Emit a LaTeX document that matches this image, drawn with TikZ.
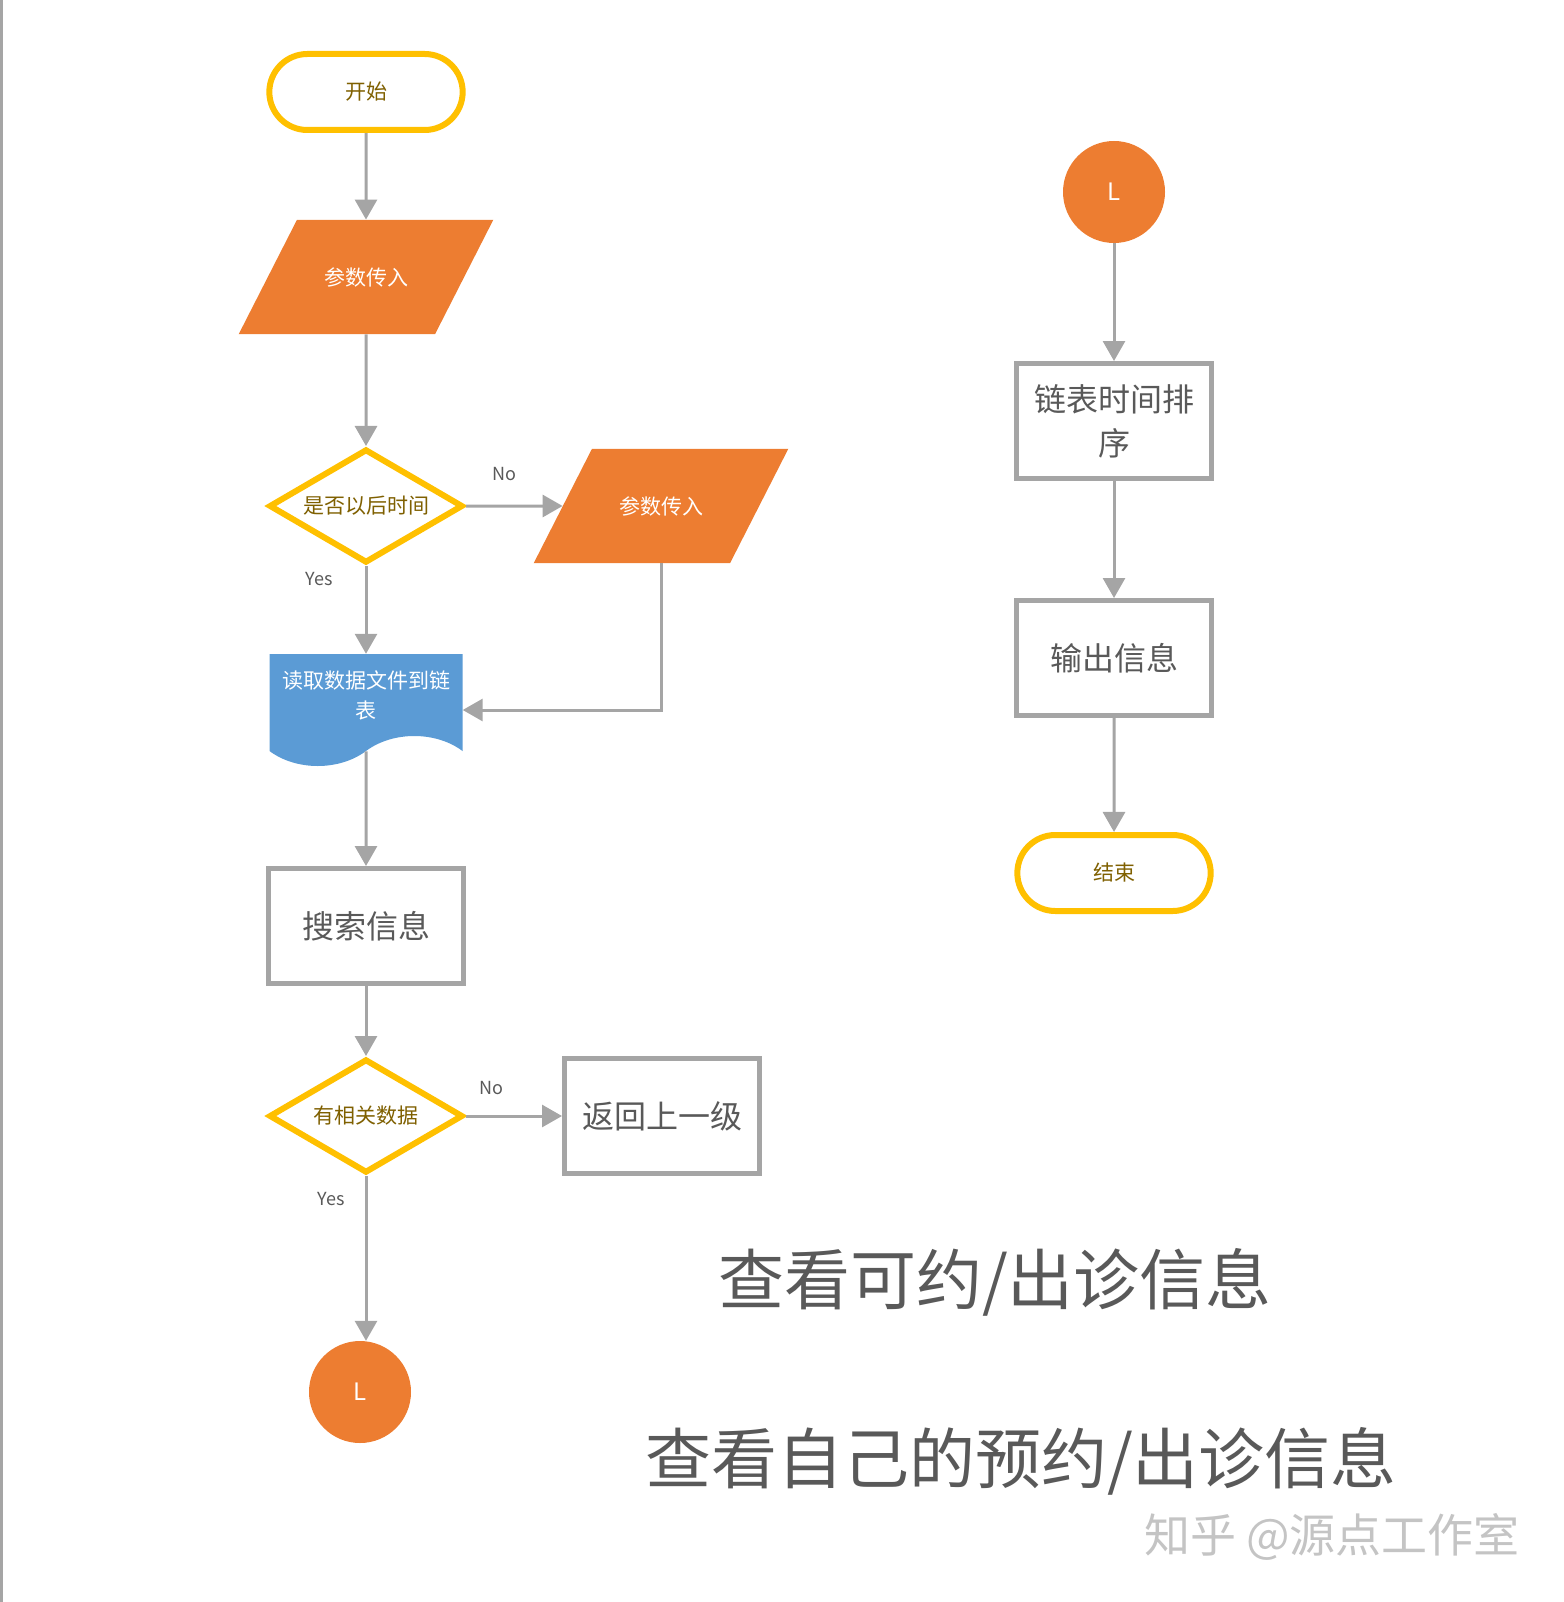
\documentclass[tikz,border=0pt]{standalone}
\usepackage{fontspec}
\setmainfont{Noto Sans CJK SC}
\usetikzlibrary{shapes.geometric,shapes.misc,shapes.symbols,arrows.meta}

\definecolor{termline}{HTML}{FFC000}
\definecolor{termtext}{HTML}{7F6000}
\definecolor{ioorange}{HTML}{ED7D31}
\definecolor{docblue}{HTML}{5B9BD5}
\definecolor{boxline}{HTML}{A5A5A5}
\definecolor{boxtext}{HTML}{595959}
\definecolor{marktext}{HTML}{C4C4C4}

\begin{document}
\begin{tikzpicture}[x=1pt,y=-1pt,
  term/.style={rounded rectangle,draw=termline,line width=6pt,fill=white,
    minimum width=200pt,minimum height=76pt,text=termtext,font=\fontsize{21}{25}\selectfont},
  io/.style={trapezium,trapezium left angle=63,trapezium right angle=117,
    inner xsep=27pt,inner ysep=47.5pt,fill=ioorange,
    text=white,font=\fontsize{21}{25}\selectfont},
  decision/.style={diamond,aspect=1.7,inner sep=0pt,draw=termline,line width=6pt,fill=white,
    minimum width=194pt,minimum height=114pt,text=termtext,font=\fontsize{21}{25}\selectfont},
  doc/.style={tape,tape bend top=none,tape bend bottom=in and out,tape bend height=30pt,
    fill=docblue,minimum width=193pt,minimum height=112pt,inner sep=2pt,
    text=white,align=center,font=\fontsize{21}{30}\selectfont},
  proc/.style={rectangle,draw=boxline,line width=5pt,fill=white,minimum width=195pt,
    minimum height=115pt,text=boxtext,align=center,font=\fontsize{32}{44}\selectfont},
  conn/.style={circle,fill=ioorange,minimum size=102pt,inner sep=0pt,
    text=white,font=\fontsize{24}{28}\selectfont},
  arr/.style={draw=boxline,line width=3pt,-{Triangle[width=22pt,length=20pt]}},
  lbl/.style={text=boxtext,font=\fontsize{18}{21}\selectfont},
  title/.style={text=boxtext,font=\fontsize{66}{70}\selectfont}
]
  \useasboundingbox (0,0) rectangle (1563,1602);
  \fill[boxline] (0,0) rectangle (3,1602);

  \node[term] (start) at (366,92) {开始};
  \node[io] (p1) at (366,277) {参数传入};
  \node[decision] (d1) at (366,506) {是否以后时间};
  \node[io] (p2) at (661,506) {参数传入};
  \node[doc] (read) at (366,695) {读取数据文件到链\\表};
  \node[proc] (search) at (366,926) {搜索信息};
  \node[decision] (d2) at (366,1116) {有相关数据};
  \node[proc] (ret) at (662,1116) {返回上一级};
  \node[conn] (lb) at (360,1392) {L};

  \node[conn] (lt) at (1114,192) {L};
  \node[proc] (sort) at (1114,421) {链表时间排\\序};
  \node[proc] (out) at (1114,658) {输出信息};
  \node[term] (stop) at (1114,873) {结束};

  \node[lbl] (no1) at (504,474) {No};
  \node[lbl] (yes1) at (319,579) {Yes};
  \node[lbl] (no2) at (491,1088) {No};
  \node[lbl] (yes2) at (331,1199) {Yes};

  \draw[arr] (start) -- (p1);
  \draw[arr] (p1) -- (d1);
  \draw[arr] (d1) -- (p2);
  \draw[arr] (d1) -- (read);
  \draw[arr] (p2) |- ([yshift=-15pt]read.east);
  \draw[arr] (read) -- (search);
  \draw[arr] (search) -- (d2);
  \draw[arr] (d2) -- (ret);
  \draw[arr] (d2) -- (d2 |- lb.north);
  \draw[arr] (lt) -- (sort);
  \draw[arr] (sort) -- (out);
  \draw[arr] (out) -- (stop);

  \node[title] (t1) at (995,1282) {查看可约/出诊信息};
  \node[title] (t2) at (1021,1461) {查看自己的预约/出诊信息};
  \node[text=marktext,font=\fontsize{46}{50}\selectfont] (mark) at (1332,1537) {知乎 @源点工作室};
\end{tikzpicture}
\end{document}
